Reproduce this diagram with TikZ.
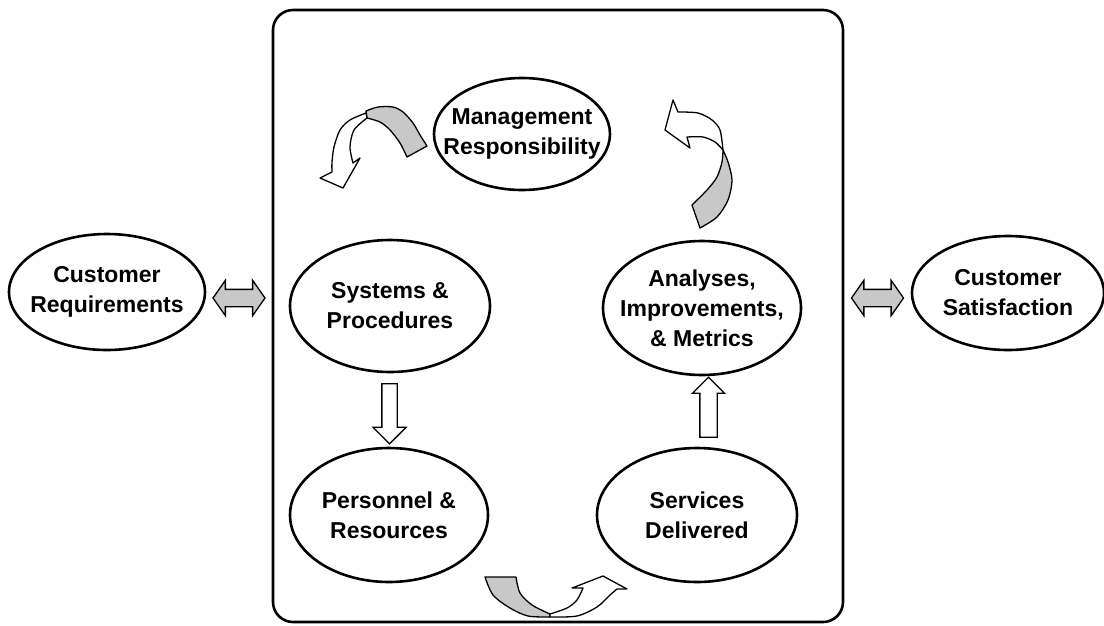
\documentclass[tikz,border=0pt]{standalone}
\usepackage{fontspec}
\setmainfont{Liberation Sans}
\usetikzlibrary{shapes.geometric,shapes.arrows,calc}
\definecolor{ribbongray}{RGB}{200,200,200}
\tikzset{
  stage/.style={draw, ellipse, line width=2.6pt, inner xsep=-25pt, inner ysep=-12pt, align=center,
    font=\bfseries\fontsize{23}{30}\selectfont},
  fatarrow/.style={draw, line width=1.3pt, single arrow, fill=white, inner xsep=0pt,
    inner ysep=7pt, minimum height=60pt, single arrow head extend=9pt},
  twoway/.style={draw, line width=1.3pt, double arrow, fill=ribbongray, inner xsep=0pt,
    inner ysep=8pt, minimum height=52pt, double arrow head extend=9pt,
    double arrow tip angle=110},
  ribbon/.style={draw, line width=1.3pt, line join=round}
}
\begin{document}
\begin{tikzpicture}[x=1pt,y=-1pt]
\useasboundingbox (0,0) rectangle (1104,625);

% the frame
\node[draw, line width=2.6pt, rounded corners=20pt, minimum width=570pt,
  minimum height=612pt] (frame) at (558,316) {};

% outside
\node[stage, minimum width=196pt, minimum height=116pt] (custreq) at (107,292) {Customer\\Requirements};
\node[stage, minimum width=192pt, minimum height=114pt] (custsat) at (1008,293) {Customer\\Satisfaction};

% inside
\node[stage, minimum width=176pt, minimum height=112pt] (mgmt) at (522,134) {Management\\Responsibility};
\node[stage, minimum width=200pt, minimum height=132pt] (sys) at (390,306) {Systems \&\\Procedures};
\node[stage, minimum width=198pt, minimum height=134pt] (anal) at (702,308) {Analyses,\\Improvements,\\\& Metrics};
\node[stage, minimum width=198pt, minimum height=134pt] (pers) at (389,515) {Personnel \&\\Resources};
\node[stage, minimum width=200pt, minimum height=134pt] (serv) at (697,515) {Services\\Delivered};

% two way arrows
\node[twoway] (inarrow) at ($(custreq.east)!.5!(custreq.east -| frame.west)+(0,6)$) {};
\node[twoway] (outarrow) at ($(custsat.west)!.5!(custsat.west -| frame.east)+(0,5)$) {};

% straight arrows
\node[fatarrow, rotate=-90] (down) at ($(sys.south)!.5!(pers.north)$) {};
\node[fatarrow, rotate=90, inner ysep=8pt, single arrow head extend=7.5pt] (up)
  at ($(serv.north)!.5!(anal.south)+(9,0)$) {};

% curved arrows
\draw[ribbon, fill=ribbongray] plot[smooth] coordinates {(366,111) (378,107) (393,107) (403,112) (413,123) (420,135) (427,146)}
  -- (407,157) -- plot[smooth] coordinates {(407,157) (400,143) (390,130) (380,122) (367,118)} -- cycle;
\draw[ribbon, fill=white] plot[smooth] coordinates {(366,113) (350,120) (340,130) (334,147) (332,162) (332,172)}
  -- (320,178) -- (343,188) -- (360,158)
  -- plot[smooth] coordinates {(353,163) (350,147) (354,130) (367,118)} -- cycle;

\draw[ribbon, fill=ribbongray] plot[smooth] coordinates {(723,150) (728,162) (732,180) (728,200) (717,217) (700,228)}
  -- (692,205) -- plot[smooth] coordinates {(692,205) (707,190) (717,177) (722,162) (723,150)} -- cycle;
\draw[ribbon, fill=white] plot[smooth] coordinates {(723,150) (720,130) (712,120) (698,113) (678,112)}
  -- (673,100) -- (665,130) -- (690,148)
  -- plot[smooth] coordinates {(687,137) (703,137) (715,142) (723,150)} -- cycle;

\draw[ribbon, fill=ribbongray] (485,577) -- (516,577)
  -- plot[smooth] coordinates {(516,577) (520,593) (532,605) (550,614)}
  -- plot[smooth] coordinates {(550,617) (528,616) (510,608) (493,595) (485,577)} -- cycle;
\draw[ribbon, fill=white] plot[smooth] coordinates {(550,617) (577,616) (597,607) (610,595) (617,589)}
  -- (627,589) -- (603,576) -- (572,588)
  -- plot[smooth] coordinates {(583,588) (577,600) (567,608) (550,614)} -- cycle;

\end{tikzpicture}
\end{document}
